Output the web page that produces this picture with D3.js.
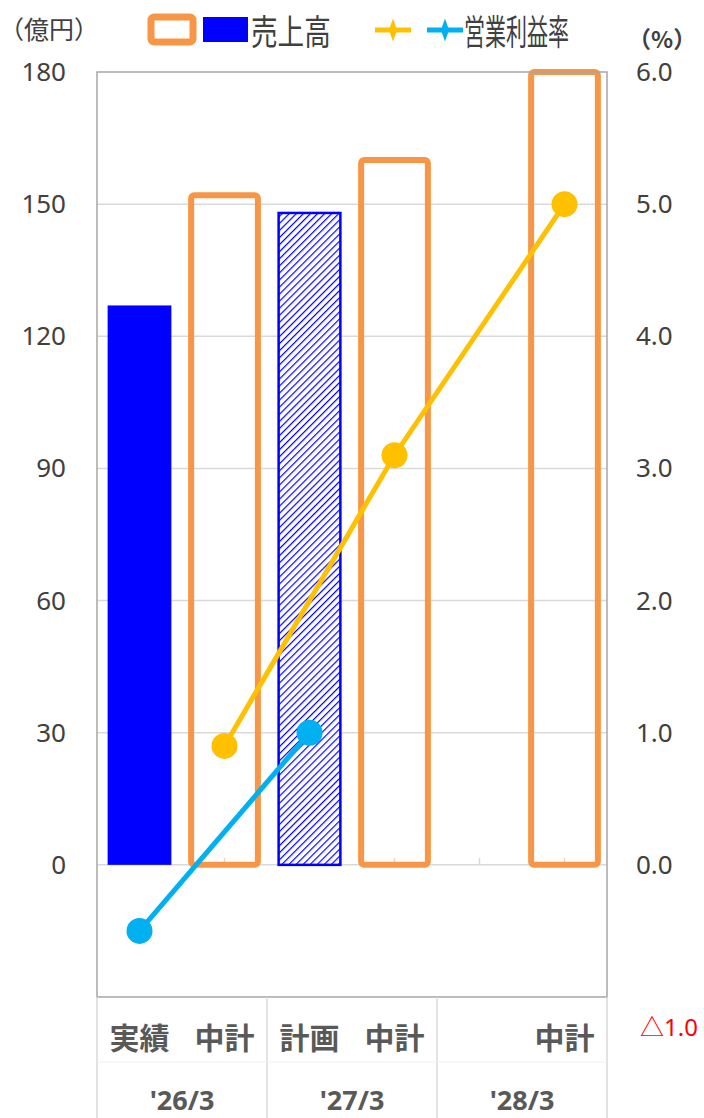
<!DOCTYPE html>
<html><head><meta charset="utf-8">
<script src="https://cdn.jsdelivr.net/npm/d3@7"></script>
<style>body{margin:0;background:#fff}svg{display:block}</style>
</head><body>
<script>
const slots = ["s1","s2","s3","s4","s5","s6"];
const slotLabels = ["実績","中計","計画","中計","","中計"];
const groups = ["'26/3","'27/3","'28/3"];
const salesActual = [{slot:"s1", v:127}];
const salesPlan = [{slot:"s3", v:148}];
const salesMid = [{slot:"s2", v:152},{slot:"s4", v:160},{slot:"s6", v:180}];
const marginMid = [{slot:"s2", v:0.9},{slot:"s4", v:3.1},{slot:"s6", v:5.0}];
const marginActual = [{slot:"s1", v:-0.5},{slot:"s3", v:1.0}];
const leftTicks = [0,30,60,90,120,150,180];
const rightTicks = [0,1,2,3,4,5,6];

const W=704,H=1118;
const m={l:97,r:607,t:72,b:997};
const svg=d3.select("body").append("svg").attr("width",W).attr("height",H);
const defs=svg.append("defs");
const pat=defs.append("pattern").attr("id","hatch").attr("patternUnits","userSpaceOnUse")
  .attr("width",5).attr("height",5).attr("patternTransform","rotate(45)");
pat.append("rect").attr("width",5).attr("height",5).attr("fill","#fff");
pat.append("line").attr("x1",0).attr("y1",0).attr("x2",0).attr("y2",5).attr("stroke","#0000FF").attr("stroke-width",2.4);

const x=d3.scaleBand().domain(slots).range([m.l,m.r]).paddingInner(0.25).paddingOuter(0.125);
const xc=d=>x(d)+x.bandwidth()/2;
const y=d3.scaleLinear().domain([-30,180]).range([m.b,m.t]);
const y2=d3.scaleLinear().domain([-1,6]).range([m.b,m.t]);

// gridlines
svg.append("g").selectAll("line").data(leftTicks.filter(d=>d<180)).join("line")
  .attr("x1",m.l).attr("x2",m.r).attr("y1",d=>y(d)).attr("y2",d=>y(d))
  .attr("stroke","#d9d9d9").attr("stroke-width",1.5);
// tick marks at zero line
svg.append("g").selectAll("line").data(slots).join("line")
  .attr("x1",d=>xc(d)).attr("x2",d=>xc(d)).attr("y1",y(0)-7).attr("y2",y(0))
  .attr("stroke","#d9d9d9").attr("stroke-width",1.5);

// bars
svg.append("g").selectAll("rect").data(salesActual).join("rect")
  .attr("x",d=>x(d.slot)).attr("width",x.bandwidth())
  .attr("y",d=>y(d.v)).attr("height",d=>y(0)-y(d.v)).attr("fill","#0000FF");
svg.append("g").selectAll("rect").data(salesPlan).join("rect")
  .attr("x",d=>x(d.slot)+1).attr("width",x.bandwidth()-2)
  .attr("y",d=>y(d.v)).attr("height",d=>y(0)-y(d.v)).attr("fill","url(#hatch)")
  .attr("stroke","#0000FF").attr("stroke-width",2.5);
svg.append("g").selectAll("rect").data(salesMid).join("rect")
  .attr("x",d=>x(d.slot)-1.5).attr("width",x.bandwidth()+3)
  .attr("y",d=>y(d.v)).attr("height",d=>y(0)-y(d.v)).attr("fill","none")
  .attr("stroke","#F79646").attr("stroke-width",6).attr("rx",3);

// plot border
svg.append("rect").attr("x",m.l).attr("y",m.t).attr("width",m.r-m.l).attr("height",m.b-m.t)
  .attr("fill","none").attr("stroke","#a6a6a6").attr("stroke-width",1.5);

// lines
const line=d3.line().x(d=>xc(d.slot)).y(d=>y2(d.v));
function series(data,color){
  svg.append("path").datum(data).attr("d",line).attr("fill","none").attr("stroke",color).attr("stroke-width",5);
  svg.append("g").selectAll("circle").data(data).join("circle")
    .attr("cx",d=>xc(d.slot)).attr("cy",d=>y2(d.v)).attr("r",13).attr("fill",color);
}
series(marginMid,"#FFC000");
series(marginActual,"#00B0F0");

// axes labels
const font="'Noto Sans','Noto Sans CJK JP',sans-serif";
svg.append("g").selectAll("text").data(leftTicks).join("text")
  .attr("x",66).attr("y",d=>y(d)+9).attr("text-anchor","end")
  .attr("font-family",font).attr("font-size",26).attr("fill","#404040").text(d=>d);
svg.append("g").selectAll("text").data(rightTicks).join("text")
  .attr("x",636).attr("y",d=>y2(d)+9).attr("text-anchor","start")
  .attr("font-family",font).attr("font-size",26).attr("fill","#404040").text(d=>d.toFixed(1));
svg.append("text").attr("x",640).attr("y",1036).attr("font-family",font).attr("font-size",24)
  .attr("fill","#FF0000").text("△1.0");

// category axis
const groupEdges=[m.l, x.step()*2+m.l, x.step()*4+m.l, m.r];
svg.append("g").selectAll("line").data(groupEdges).join("line")
  .attr("x1",d=>d).attr("x2",d=>d).attr("y1",m.b).attr("y2",H)
  .attr("stroke","#d9d9d9").attr("stroke-width",1.5);
svg.append("line").attr("x1",m.l).attr("x2",m.r).attr("y1",1062).attr("y2",1062)
  .attr("stroke","#f0f0f0").attr("stroke-width",1);
svg.append("g").selectAll("text").data(slots).join("text")
  .attr("x",d=>xc(d)).attr("y",1049).attr("text-anchor","middle")
  .attr("font-family","'Noto Sans CJK JP',sans-serif").attr("font-weight","bold")
  .attr("font-size",30).attr("fill","#595959").text((d,i)=>slotLabels[i]);
svg.append("g").selectAll("text").data(groups).join("text")
  .attr("x",(d,i)=>(groupEdges[i]+groupEdges[i+1])/2).attr("y",1110).attr("text-anchor","middle")
  .attr("font-family",font).attr("font-weight","bold")
  .attr("font-size",27).attr("fill","#595959").text(d=>d);

// unit labels
svg.append("text").attr("x",-1).attr("y",39).attr("font-family","'Noto Sans CJK JP',sans-serif")
  .attr("font-size",25).attr("fill","#404040").text("（億円）");
svg.append("text").attr("x",628).attr("y",48).attr("font-family","'Noto Sans CJK JP',sans-serif")
  .attr("font-size",23).attr("fill","#404040").attr("font-weight","bold").text("（%）");

// legend
const lg=svg.append("g");
lg.append("rect").attr("x",151).attr("y",17).attr("width",42).attr("height",25).attr("rx",3)
  .attr("fill","#fff").attr("stroke","#F79646").attr("stroke-width",7);
lg.append("rect").attr("x",203).attr("y",17).attr("width",45).attr("height",25).attr("fill","#0000FF");
lg.append("text").attr("transform","translate(251,45) scale(0.76,1)")
  .attr("font-family","'Noto Sans CJK JP',sans-serif").attr("font-size",35).attr("fill","#404040").text("売上高");
function lgLine(x0,color){
  lg.append("line").attr("x1",x0).attr("x2",x0+36).attr("y1",30).attr("y2",30).attr("stroke",color).attr("stroke-width",5);
  lg.append("path").attr("d",d3.symbol(d3.symbolDiamond,90)()).attr("transform",`translate(${x0+18},30) scale(0.8,1.3)`).attr("fill",color);
}
lgLine(375,"#FFC000");
lgLine(427,"#00B0F0");
lg.append("text").attr("transform","translate(464,45) scale(0.6,1)")
  .attr("font-family","'Noto Sans CJK JP',sans-serif").attr("font-size",35).attr("fill","#404040").text("営業利益率");
</script>
</body></html>
